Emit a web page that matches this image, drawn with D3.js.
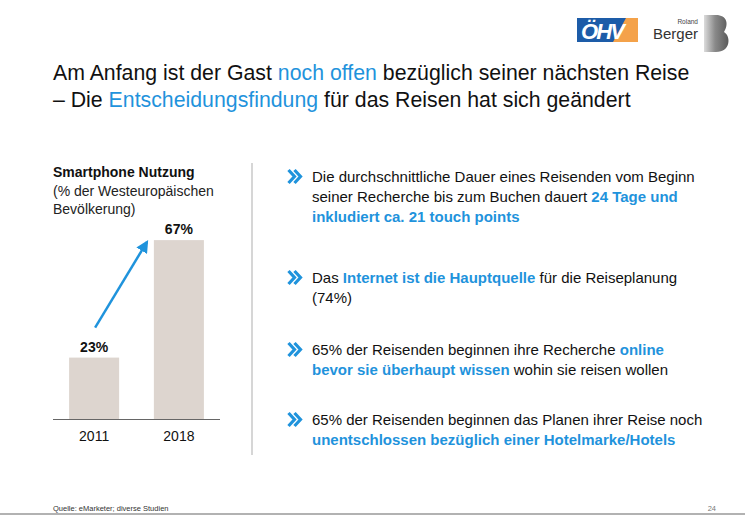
<!DOCTYPE html>
<html>
<head>
<meta charset="utf-8">
<script src="https://cdn.jsdelivr.net/npm/d3@7"></script>
<style>
  body { margin: 0; background: #fff; }
  svg { display: block; font-family: "Liberation Sans", Arial, sans-serif; }
</style>
</head>
<body>
<div id="chart"></div>
<script>
// data
const years = ["2011", "2018"];
const shares = [23, 67];
const titleLines = [
  [["Am Anfang ist der Gast ", false], ["noch offen", true], [" bezüglich seiner nächsten Reise", false]],
  [["– Die ", false], ["Entscheidungsfindung", true], [" für das Reisen hat sich geändert", false]]
];
const chartTitle = "Smartphone Nutzung";
const chartSubtitle = ["(% der Westeuropäischen", "Bevölkerung)"];
const bullets = [
  [
    [["Die durchschnittliche Dauer eines Reisenden vom Beginn", false]],
    [["seiner Recherche bis zum Buchen dauert ", false], ["24 Tage und", true]],
    [["inkludiert ca. 21 touch points", true]]
  ],
  [
    [["Das ", false], ["Internet ist die Hauptquelle", true], [" für die Reiseplanung", false]],
    [["(74%)", false]]
  ],
  [
    [["65% der Reisenden beginnen ihre Recherche ", false], ["online", true]],
    [["bevor sie überhaupt wissen", true], [" wohin sie reisen wollen", false]]
  ],
  [
    [["65% der Reisenden beginnen das Planen ihrer Reise noch", false]],
    [["unentschlossen bezüglich einer Hotelmarke/Hotels", true]]
  ]
];
const source = "Quelle: eMarketer; diverse Studien";
const pageNo = "24";

const blue = "#1f93dc";
const dark = "#111";

const W = 745, H = 517;
const svg = d3.select("#chart").append("svg")
  .attr("width", W).attr("height", H);
const defs = svg.append("defs");

// logos
const logo = svg.append("g");
logo.append("rect").attr("x", 577).attr("y", 18).attr("width", 61).attr("height", 24).attr("fill", "#1d5ca8");
logo.append("path").attr("d", "M626,18L638,18L638,42L613,42Z").attr("fill", "#f4a24a");
logo.append("text").attr("x", 581).attr("y", 39).attr("fill", "#fff")
  .style("font-size", "22px").style("font-weight", "bold").style("font-style", "italic")
  .attr("textLength", 44).text("ÖHV");
logo.append("text").attr("x", 698).attr("y", 24).attr("text-anchor", "end")
  .style("font-size", "6.5px").attr("fill", "#444").text("Roland");
logo.append("text").attr("x", 698).attr("y", 39).attr("text-anchor", "end")
  .style("font-size", "15px").attr("fill", "#333").text("Berger");
const grad = defs.append("linearGradient").attr("id", "bgrad")
  .attr("x1", "0").attr("x2", "1").attr("y1", "0").attr("y2", "0");
grad.append("stop").attr("offset", "0").attr("stop-color", "#dcdcdc");
grad.append("stop").attr("offset", "0.45").attr("stop-color", "#8a8a8a");
grad.append("stop").attr("offset", "1").attr("stop-color", "#5a5a5a");
logo.append("path")
  .attr("d", "M704,15L716,15C727,15 729,24 724,32C731,36 731,52 716,52L704,52Z")
  .attr("fill", "url(#bgrad)");

// title (slightly condensed like the slide font)
const title = svg.append("text").attr("x", 53).style("font-size", "22.3px").attr("fill", dark)
  .attr("transform", "translate(53,0) scale(0.955,1) translate(-53,0)");
titleLines.forEach((line, i) => {
  line.forEach(([t, hl], j) => {
    const ts = title.append("tspan").text(t).attr("fill", hl ? blue : dark);
    if (j === 0) ts.attr("x", 53).attr("y", 80 + i * 27);
  });
});

// chart heading
svg.append("text").attr("x", 53).attr("y", 177)
  .style("font-size", "14px").style("font-weight", "bold").attr("fill", dark).text(chartTitle);
chartSubtitle.forEach((t, i) => {
  svg.append("text").attr("x", 53).attr("y", 196 + i * 18)
    .style("font-size", "14px").attr("fill", "#222").text(t);
});

// bar chart
const x = d3.scaleBand().domain(years).range([53, 220]).paddingInner(0.41).paddingOuter(0.19);
const y = d3.scaleLinear().domain([0, 100]).range([419, 152]);

svg.selectAll(".bar").data(years).join("rect")
  .attr("class", "bar")
  .attr("x", d => x(d))
  .attr("y", (d, i) => y(shares[i]))
  .attr("width", x.bandwidth())
  .attr("height", (d, i) => y(0) - y(shares[i]))
  .attr("fill", "#ddd5cf");

svg.selectAll(".val").data(years).join("text")
  .attr("class", "val")
  .attr("x", d => x(d) + x.bandwidth() / 2)
  .attr("y", (d, i) => y(shares[i]) - 6)
  .attr("text-anchor", "middle")
  .style("font-size", "14px").style("font-weight", "bold").attr("fill", dark)
  .text((d, i) => shares[i] + "%");

const xAxis = svg.append("g").attr("transform", `translate(0,${y(0)})`)
  .call(d3.axisBottom(x).tickSize(0).tickPadding(12).tickSizeOuter(0));
xAxis.select(".domain").attr("stroke", "#666").attr("stroke-width", 1)
  .attr("d", "M53,0.5H220");
xAxis.selectAll("text").style("font-size", "14px").attr("fill", dark)
  .style("font-family", "Liberation Sans, Arial, sans-serif");

// growth arrow
defs.append("marker").attr("id", "ah").attr("viewBox", "0 0 10 10")
  .attr("refX", 8).attr("refY", 5).attr("markerWidth", 5).attr("markerHeight", 5)
  .attr("orient", "auto")
  .append("path").attr("d", "M0,0L10,5L0,10Z").attr("fill", blue);
svg.append("line")
  .attr("x1", x(years[0]) + x.bandwidth() / 2 + 1).attr("y1", y(shares[0]) - 30)
  .attr("x2", x(years[1]) - 7).attr("y2", y(shares[1]) + 2)
  .attr("stroke", blue).attr("stroke-width", 2.5)
  .attr("marker-end", "url(#ah)");

// divider
svg.append("line").attr("x1", 252).attr("x2", 252).attr("y1", 163).attr("y2", 455)
  .attr("stroke", "#c8c8c8").attr("stroke-width", 1.5);

// bullets
const bulletTop = [182, 283, 355, 425];
bullets.forEach((lines, b) => {
  const by = bulletTop[b];
  const g = svg.append("g");
  [0, 6].forEach(dx => {
    g.append("path")
      .attr("d", `M${288.5 + dx},${by - 12}L${294.5 + dx},${by - 5.5}L${288.5 + dx},${by + 1}`)
      .attr("fill", "none").attr("stroke", blue).attr("stroke-width", 3.2);
  });
  const t = g.append("text").style("font-size", "15px").attr("fill", dark);
  lines.forEach((line, i) => {
    line.forEach(([s, hl], j) => {
      const ts = t.append("tspan").text(s)
        .attr("fill", hl ? blue : dark)
        .style("font-weight", hl ? "bold" : "normal");
      if (j === 0) ts.attr("x", 312).attr("y", by + i * 20);
    });
  });
});

// footer
svg.append("text").attr("x", 53).attr("y", 511)
  .style("font-family", "Liberation Sans Narrow, Arial Narrow, sans-serif")
  .style("font-size", "7.5px").attr("fill", "#333").text(source);
svg.append("text").attr("x", 716).attr("y", 511).attr("text-anchor", "end")
  .style("font-family", "Liberation Sans Narrow, Arial Narrow, sans-serif")
  .style("font-size", "7.5px").attr("fill", "#777").text(pageNo);
svg.append("line").attr("x1", 0).attr("x2", W).attr("y1", 514).attr("y2", 514)
  .attr("stroke", "#999").attr("stroke-width", 1.5);
</script>
</body>
</html>
